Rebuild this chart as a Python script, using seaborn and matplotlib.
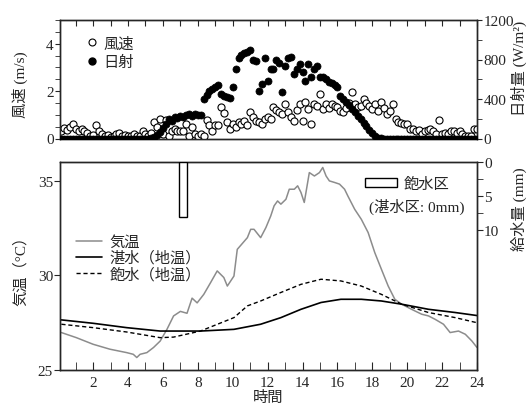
import numpy as np
import pandas as pd
import matplotlib
matplotlib.use("Agg")
import matplotlib.pyplot as plt
import seaborn as sns
from matplotlib.ticker import MultipleLocator, FixedLocator
from matplotlib.lines import Line2D
from matplotlib.patches import Patch

# ---------------- data ----------------
# 10-minute time stamps (hours)
time10 = np.arange(1, 145) / 6.0

wind = [
    0.30, 0.45, 0.35, 0.50, 0.60, 0.40,
    0.33, 0.40, 0.30, 0.25, 0.10, 0.15,
    0.55, 0.30, 0.20, 0.12, 0.15, 0.08,
    0.10, 0.20, 0.25, 0.10, 0.15, 0.10,
    0.12, 0.20, 0.10, 0.10, 0.33, 0.20,
    0.10, 0.25, 0.70, 0.50, 0.83, 0.20,
    0.80, 0.10, 0.30, 0.40, 0.30, 0.30,
    0.30, 0.62, 0.10, 0.50, 0.20, 0.10,
    0.20, 0.12, 0.80, 0.55, 0.30, 0.55,
    0.55, 1.33, 1.08, 0.70, 0.42, 0.62,
    0.50, 0.70, 0.62, 0.75, 0.55, 1.12,
    0.90, 0.75, 0.70, 0.60, 0.83, 0.90,
    0.83, 1.33, 1.20, 1.10, 1.04, 1.45,
    1.10, 0.90, 0.75, 1.20, 1.45, 0.75,
    1.54, 1.25, 0.62, 1.45, 1.37, 1.87,
    1.25, 1.45, 1.30, 1.45, 1.37, 1.33,
    1.16, 1.12, 1.30, 1.50, 1.95, 1.45,
    1.33, 1.37, 1.66, 1.50, 1.37, 1.25,
    1.45, 1.16, 1.54, 1.30, 1.04, 1.16,
    1.45, 0.83, 0.70, 0.65, 0.62, 0.62,
    0.42, 0.42, 0.30, 0.35, 0.20, 0.30,
    0.35, 0.42, 0.33, 0.20, 0.80, 0.20,
    0.25, 0.20, 0.33, 0.30, 0.25, 0.33,
    0.20, 0.10, 0.10, 0.10, 0.42, 0.42,
]

radiation = [
    0, 0, 0, 0, 0, 0,
    0, 0, 0, 0, 0, 0,
    0, 0, 0, 0, 0, 0,
    0, 0, 0, 0, 0, 0,
    0, 0, 0, 0, 0, 0,
    0, 5, 15, 40, 70, 110,
    150, 200, 180, 220, 210, 230,
    220, 240, 250, 230, 250, 240,
    240, 400, 440, 480, 500, 520,
    540, 450, 430, 420, 410, 520,
    700, 820, 850, 870, 880, 900,
    800, 780, 480, 550, 820, 580,
    700, 700, 800, 760, 470, 730,
    820, 830, 650, 700, 750, 670,
    580, 750, 620, 700, 730, 620,
    620, 600, 570, 560, 540, 520,
    430, 400, 370, 335, 300, 265,
    230, 195, 160, 125, 90, 55,
    25, 10, 5, 0, 0, 0,
    0, 0, 0, 0, 0, 0,
    0, 0, 0, 0, 0, 0,
    0, 0, 0, 0, 0, 0,
    0, 0, 0, 0, 0, 0,
    0, 0, 0, 0, 0, 0,
]

air_t = [0.18, 1.04, 2.0, 2.96, 3.92, 4.3, 4.5, 4.69, 5.08, 5.46, 5.84, 6.23,
         6.61, 7.0, 7.38, 7.67, 7.96, 8.34, 8.73, 9.11, 9.49, 9.69, 10.07,
         10.26, 10.84, 11.03, 11.22, 11.6, 11.9, 12.18, 12.37, 12.57, 12.76,
         13.05, 13.24, 13.53, 13.72, 13.91, 14.1, 14.39, 14.68, 14.97, 15.16,
         15.35, 15.54, 15.83, 16.12, 16.41, 16.6, 16.99, 17.37, 17.76, 18.14,
         18.52, 18.91, 19.29, 19.68, 20.25, 20.83, 21.22, 21.6, 22.08, 22.46,
         22.94, 23.33, 23.71, 24.0]
air_temp = [26.98, 26.71, 26.36, 26.10, 25.92, 25.83, 25.66, 25.83, 25.92,
            26.19, 26.53, 27.15, 27.86, 28.10, 28.00, 28.80, 28.55, 29.00,
            29.62, 30.24, 29.89, 29.44, 29.97, 31.38, 32.00, 32.44, 32.44,
            32.00, 32.53, 33.15, 33.68, 33.94, 33.77, 34.03, 34.56, 34.56,
            34.74, 34.39, 33.86, 35.44, 35.26, 35.44, 35.71, 35.26, 35.00,
            34.92, 34.83, 34.56, 34.20, 33.50, 32.97, 32.27, 31.21, 30.33,
            29.44, 28.74, 28.48, 28.21, 27.95, 27.86, 27.68, 27.42, 26.98,
            27.06, 26.89, 26.53, 26.19]

soil_t = [0.18, 2.0, 3.92, 5.84, 8.15, 10.07, 11.6, 12.76, 13.91, 15.06,
          16.2, 17.37, 18.52, 19.68, 21.22, 22.75, 24.0]
flooded_temp = [27.65, 27.47, 27.24, 27.06, 27.06, 27.15, 27.42, 27.77, 28.21,
                28.57, 28.74, 28.74, 28.65, 28.48, 28.21, 28.04, 27.88]
soil_t2 = [0.18, 2.0, 3.92, 5.84, 6.61, 8.15, 10.07, 10.84, 11.6, 12.76,
           13.91, 15.06, 16.2, 17.37, 18.52, 19.68, 21.22, 22.75, 24.0]
saturated_temp = [27.42, 27.24, 27.01, 26.71, 26.74, 27.06, 27.77, 28.39,
                  28.65, 29.10, 29.53, 29.80, 29.71, 29.44, 29.00, 28.48,
                  28.04, 27.77, 27.50]

water_time = [7.15]
water_amount = [8.0]

xticks = [2, 4, 6, 8, 10, 12, 14, 16, 18, 20, 22, 24]

# ---------------- style ----------------
sns.set_style("ticks")
plt.rcParams['font.family'] = ['Liberation Serif', 'Noto Sans CJK JP']
plt.rcParams['axes.linewidth'] = 1.0
plt.rcParams['axes.unicode_minus'] = False

FS = 11
fig = plt.figure(figsize=(5.32, 4.10), dpi=100)
W, H = 532.0, 410.0
L, R = 60, 477
ax1 = fig.add_axes([L / W, 1 - 139.5 / H, (R - L) / W, (139.5 - 21) / H])
ax3 = fig.add_axes([L / W, 1 - 371 / H, (R - L) / W, (371 - 163) / H])

# ---------------- top panel ----------------
df_top = pd.DataFrame({"time": time10, "wind": wind, "rad": radiation})
sns.scatterplot(data=df_top, x="time", y="wind", ax=ax1, marker="o", s=26,
                facecolor="white", edgecolor="black", linewidth=0.8,
                zorder=3, legend=False)
ax1.set_xlim(0.1, 24)
ax1.set_ylim(0, 5)
ax1.yaxis.set_major_locator(FixedLocator([0, 2, 4]))
ax1.yaxis.set_minor_locator(MultipleLocator(0.5))
ax1.xaxis.set_major_locator(MultipleLocator(1))
ax1.tick_params(axis='x', which='both', bottom=False, top=True,
                direction='in', length=4, labelbottom=False)
ax1.tick_params(axis='y', which='both', direction='out', length=3.5,
                labelsize=FS, pad=1)
ax1.set_xlabel("")
ax1.set_ylabel("風速 (m/s)", fontsize=FS)
ax1.yaxis.set_label_coords(-0.077, 0.46)

ax2 = ax1.twinx()
sns.scatterplot(data=df_top, x="time", y="rad", ax=ax2, marker="o", s=26,
                color="black", edgecolor="black", linewidth=0.5,
                zorder=4, legend=False)
ax2.set_ylim(0, 1200)
ax2.set_xlim(0.1, 24)
ax2.yaxis.set_major_locator(FixedLocator([0, 400, 800, 1200]))
ax2.yaxis.set_minor_locator(MultipleLocator(200))
ax2.tick_params(axis='y', which='both', direction='out', length=3.5,
                labelsize=FS, pad=1)
ax2.set_ylabel("日射量 (W/m²)", fontsize=FS)
ax2.yaxis.set_label_coords(1.08, 0.6)
for a in (ax1, ax2):
    for s in a.spines.values():
        s.set_visible(True)
        s.set_linewidth(1.0)

h_top = [Line2D([], [], marker='o', ls='none', mfc='white', mec='black',
                ms=5, mew=0.8, label='風速'),
         Line2D([], [], marker='o', ls='none', mfc='black', mec='black',
                ms=5, label='日射')]
ax2.legend(handles=h_top, loc='upper left', bbox_to_anchor=(0.03, 0.95),
           frameon=False, fontsize=FS, handletextpad=0.1, labelspacing=0.3,
           borderpad=0.2, handlelength=1.2)

# ---------------- bottom panel ----------------
df_air = pd.DataFrame({"time": air_t, "temp": air_temp})
df_fl = pd.DataFrame({"time": soil_t, "temp": flooded_temp})
df_sa = pd.DataFrame({"time": soil_t2, "temp": saturated_temp})
sns.lineplot(data=df_air, x="time", y="temp", ax=ax3, color="#8c8c8c",
             lw=1.1, sort=False, estimator=None, zorder=2)
sns.lineplot(data=df_fl, x="time", y="temp", ax=ax3, color="black",
             lw=1.2, sort=False, estimator=None, zorder=3)
sns.lineplot(data=df_sa, x="time", y="temp", ax=ax3, color="black",
             lw=1.0, ls=(0, (3, 2)), sort=False, estimator=None, zorder=3)
ax3.set_xlim(0.1, 24)
ax3.set_ylim(25, 36)
ax3.yaxis.set_major_locator(FixedLocator([25, 30, 35]))
ax3.xaxis.set_major_locator(FixedLocator(xticks))
ax3.xaxis.set_minor_locator(MultipleLocator(1))
ax3.tick_params(axis='x', which='both', direction='in', length=6,
                labelsize=FS, top=False, pad=4)
ax3.tick_params(axis='y', which='both', direction='out', length=4,
                labelsize=FS, pad=1)
ax3.set_xlabel("時間", fontsize=FS, labelpad=1)
ax3.set_ylabel("気温（°C）", fontsize=FS)
ax3.yaxis.set_label_coords(-0.077, 0.5)

ax4 = ax3.twinx()
ax4.bar(water_time, water_amount, width=0.5, bottom=0, facecolor="white",
        edgecolor="black", linewidth=1.0, zorder=4)
ax4.set_ylim(30.4, 0)
ax4.set_xlim(0.1, 24)
ax4.yaxis.set_major_locator(FixedLocator([0, 5, 10]))
ax4.yaxis.set_minor_locator(FixedLocator([2.5, 7.5]))
ax4.tick_params(axis='y', which='both', direction='out', length=4,
                labelsize=FS, pad=1)
ax4.set_ylabel("給水量 (mm)", fontsize=FS)
ax4.yaxis.set_label_coords(1.08, 0.78)
for a in (ax3, ax4):
    for s in a.spines.values():
        s.set_visible(True)
        s.set_linewidth(1.0)

h_bot = [Line2D([], [], color="#8c8c8c", lw=1.1, label='気温'),
         Line2D([], [], color="black", lw=1.2, label='湛水（地温）'),
         Line2D([], [], color="black", lw=1.0, ls=(0, (3, 2)),
                label='飽水（地温）')]
leg1 = ax4.legend(handles=h_bot, loc='upper left',
                  bbox_to_anchor=(0.012, 0.70), frameon=False, fontsize=FS,
                  handlelength=1.7, handletextpad=0.5, labelspacing=0.1,
                  borderpad=0.2)
ax4.add_artist(leg1)
h_bar = [Patch(facecolor='white', edgecolor='black', lw=1.0, label='飽水区')]
ax4.legend(handles=h_bar, loc='upper left', bbox_to_anchor=(0.705, 0.98),
           frameon=False, fontsize=FS, handlelength=2.1, handleheight=0.45,
           handletextpad=0.45, borderpad=0.2)
ax4.text(0.97, 0.79, "(湛水区: 0mm)", transform=ax4.transAxes,
         ha='right', va='center', fontsize=FS)

fig.savefig("out.png", dpi=100)
